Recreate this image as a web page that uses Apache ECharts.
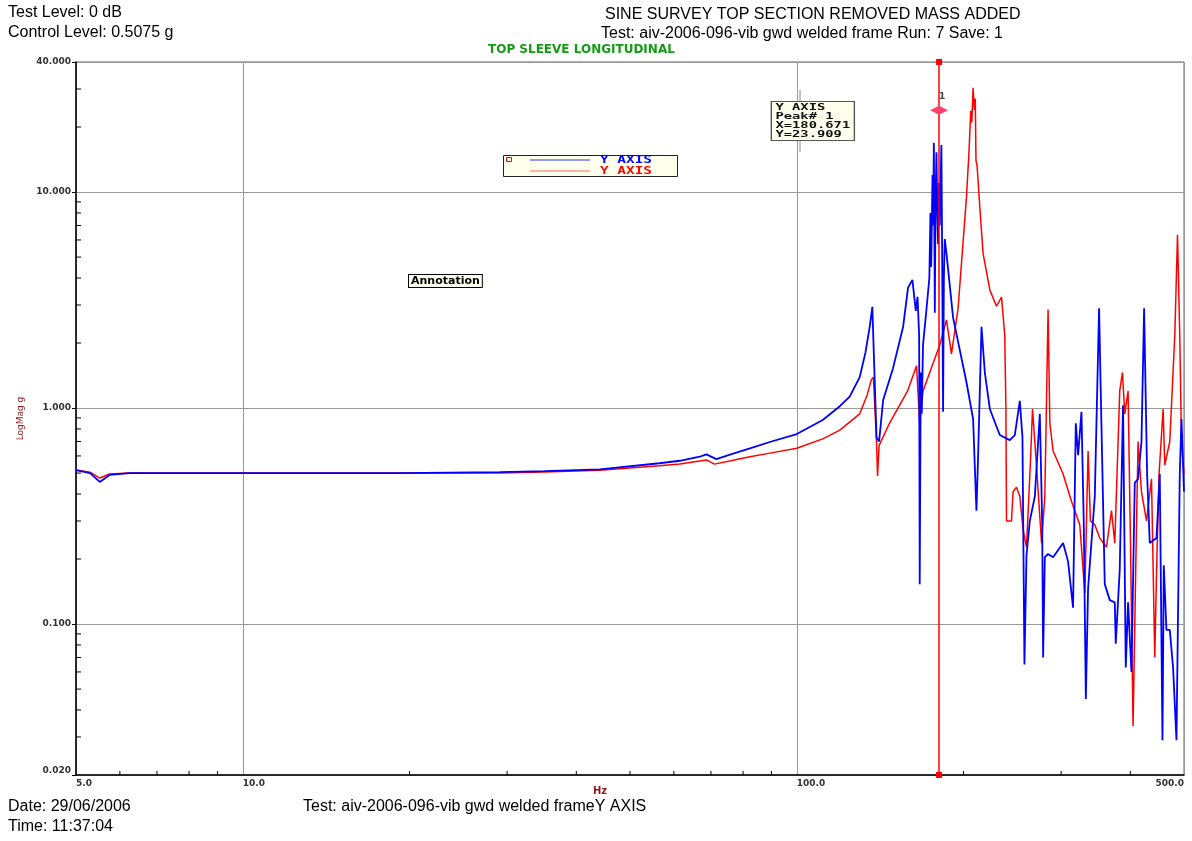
<!DOCTYPE html>
<html>
<head>
<meta charset="utf-8">
<title>Sine survey - top sleeve longitudinal</title>
<script src="https://cdn.jsdelivr.net/npm/echarts@6/dist/echarts.min.js"></script>
<style>
  html, body { margin: 0; padding: 0; background: #fff; }
  #chart { width: 1192px; height: 841px; }
</style>
</head>
<body>
<div id="chart"></div>
<script>
// Hz / g readings
const freqBlue = [5.0, 5.3, 5.52, 5.75, 6.25, 8.4, 12.7, 19.2, 29.1, 35, 44.1, 56.5, 61.5, 66.8, 68.7, 71.6, 76, 82.3, 90, 100,
  111.4, 119.6, 124.6, 129.9, 133, 135.5, 136.9, 138.3, 139.3, 140.8, 143.2, 149.2, 155.6, 158.8, 161.7, 164.0, 165.2, 166.3, 166.7, 167.4,
  168.1, 169.0, 171.5, 173.5, 174.3, 174.8, 175.1, 175.8, 176.2, 176.8, 177.5, 178.0, 178.7, 179.3, 179.9, 180.5, 181.2, 182.4, 183.0, 183.7,
  184.3, 185.0, 186.3, 191.5, 202.4, 208.1, 211.0, 212.4, 215.5, 218.5, 223.1, 232.5, 242.4, 247.5, 252.7, 255.5, 257.6, 259.8, 263.4, 269.0,
  274.6, 277.3, 278.4, 280.4, 284.2, 290.2, 302.5, 308.8, 315.3, 318.9, 322.0, 326.5, 329.6, 332.5, 335.6, 345.1, 351.3, 354.8, 359.7, 367.3,
  375.0, 376.5, 382.8, 388.1, 392.5, 396.3, 401.9, 407.5, 413.1, 419.0, 423.6, 428.9, 433.7, 446.0, 452.1, 457.2, 459.7, 464.8, 471.3, 477.8,
  484.6, 491.3, 494.8, 500];
const magBlue = [0.516, 0.50, 0.455, 0.49, 0.50, 0.50, 0.50, 0.50, 0.505, 0.51, 0.52, 0.555, 0.57, 0.595, 0.61, 0.58, 0.61, 0.65, 0.70, 0.758,
  0.88, 1.02, 1.13, 1.39, 1.8, 2.4, 2.94, 1.3, 0.73, 0.70, 1.09, 1.53, 2.38, 3.61, 3.92, 2.82, 3.27, 2.16, 0.153, 1.46,
  0.94, 1.96, 2.89, 4.0, 8.0, 4.5, 5.75, 12, 7, 16.9, 2.76, 9, 15.3, 8, 5.75, 11, 7, 16.5, 5, 0.96,
  4, 6.06, 5.2, 2.62, 1.32, 0.89, 0.335, 0.575, 2.38, 1.46, 0.99, 0.75, 0.71, 0.75, 1.08, 0.73, 0.065, 0.207, 0.30, 0.39,
  0.94, 0.30, 0.070, 0.204, 0.211, 0.204, 0.237, 0.195, 0.119, 0.85, 0.605, 0.96, 0.30, 0.045, 0.146, 0.39, 2.9, 0.825, 0.153, 0.129,
  0.126, 0.081, 0.178, 1.03, 0.063, 0.126, 0.060, 0.45, 0.47, 0.70, 2.9, 0.495, 0.237, 0.25, 0.495, 0.029, 0.187, 0.094, 0.094, 0.063,
  0.029, 0.495, 0.89, 0.41];

const freqRed = [5.0, 5.3, 5.52, 5.75, 6.25, 8.4, 12.7, 19.2, 29.1, 35, 44.1, 56.5, 61.5, 66.8, 68.7, 71.0, 76, 82.3, 90, 100,
  111.4, 119.6, 129.9, 134, 136.3, 137.5, 139.3, 139.9, 140.8, 147, 158.5, 164.5, 166.7, 169.0, 176.2, 181.2, 186.3, 190.2, 195.5, 202.4,
  204.5, 206.1, 207.0, 208.1, 209.2, 210.0, 210.6, 211.6, 214.0, 216.9, 223.1, 229.4, 234.2, 237.4, 238.5, 239.1, 240.7, 244.1, 245.7, 249.2,
  252.7, 256.1, 259.8, 264.2, 266.4, 270.8, 276.6, 280.4, 284.2, 286.3, 290.2, 302.5, 313.2, 324.2, 331.1, 335.6, 338.9, 345.1, 352.3, 362.2,
  369.9, 375.0, 382.8, 387.1, 390.9, 396.3, 400.3, 404.6, 409.2, 413.1, 419.0, 427.8, 436.8, 442.8, 446.0, 450.8, 458.4, 461.6, 471.3, 481.2,
  486.7, 491.3, 494.8, 500];
const magRed = [0.516, 0.505, 0.474, 0.495, 0.50, 0.50, 0.50, 0.50, 0.50, 0.505, 0.515, 0.54, 0.55, 0.568, 0.575, 0.55, 0.57, 0.595, 0.62, 0.651,
  0.72, 0.79, 0.94, 1.15, 1.35, 1.39, 0.70, 0.485, 0.67, 0.85, 1.20, 1.57, 0.85, 1.20, 1.61, 1.96, 2.56, 1.78, 2.89, 9.4,
  15, 23.8, 21, 30.4, 24, 27, 14, 13.2, 8.5, 5.2, 3.52, 2.96, 3.26, 2.16, 1.0, 0.30, 0.296, 0.30, 0.41, 0.43,
  0.39, 0.275, 0.227, 0.575, 0.99, 0.545, 0.237, 0.39, 2.86, 0.85, 0.633, 0.495, 0.37, 0.288, 0.139, 0.633, 0.30, 0.288, 0.25, 0.227,
  0.335, 0.237, 1.20, 1.46, 0.94, 1.20, 0.237, 0.0336, 0.187, 0.70, 0.41, 0.30, 0.47, 0.070, 0.17, 0.495, 0.99, 0.545, 0.70, 2.16,
  6.34, 2.16, 0.70, 0.495];

// cursor / peak readout
const peakX = 180.671;
const peakY = 23.909;

// axis ranges and minor tick positions
const xMin = 5, xMax = 500;
const yMin = 0.02, yMax = 40;
const xMinor = [6, 7, 8, 9, 20, 30, 40, 50, 60, 70, 80, 90, 200, 300, 400];
const yMinor = [0.03, 0.04, 0.05, 0.06, 0.07, 0.08, 0.09, 0.2, 0.3, 0.4, 0.5, 0.6, 0.7, 0.8, 0.9,
  2, 3, 4, 5, 6, 7, 8, 9, 20, 30];

const zip = (xs, ys) => xs.map((x, i) => [x, ys[i]]);

const chart = echarts.init(document.getElementById('chart'));

const sans = '"Liberation Sans", Arial, sans-serif';
const mono = '"DejaVu Sans Mono", monospace';

function minorTick(horizontal) {
  return function (params, api) {
    const p = api.coord([api.value(0), api.value(1)]);
    return {
      type: 'line',
      shape: horizontal
        ? { x1: p[0], y1: p[1], x2: p[0], y2: p[1] - 4 }
        : { x1: p[0], y1: p[1], x2: p[0] + 5, y2: p[1] },
      style: { stroke: '#000', lineWidth: 1 }
    };
  };
}

// legend box drawn by hand: both traces carry the same name "Y AXIS"
function legendRow(y, color, lineColor) {
  return [
    { type: 'line', z: 12, shape: { x1: 530, y1: y, x2: 590, y2: y }, style: { stroke: lineColor, lineWidth: 1.2 } },
    { type: 'text', z: 12, x: 600, y: y, scaleX: 1.2, scaleY: 0.8,
      style: { text: 'Y AXIS', font: 'bold 12px ' + mono, fill: color, verticalAlign: 'middle' } }
  ];
}

const option = {
  backgroundColor: '#fff',
  animation: false,
  grid: {
    left: 76, right: 8, top: 62, bottom: 66,
    show: true, borderColor: '#666', borderWidth: 1
  },
  xAxis: {
    type: 'log', logBase: 10, min: xMin, max: xMax,
    axisLine: { lineStyle: { color: '#000', width: 1.5 } },
    axisTick: { show: false },
    splitLine: { show: true, lineStyle: { color: '#999', width: 1 } },
    axisLabel: {
      formatter: v => Number(v).toFixed(1),
      align: 'left', alignMaxLabel: 'right', margin: 4,
      fontFamily: 'DejaVu Sans', fontSize: 9, fontWeight: 'bold', color: '#333'
    }
  },
  yAxis: {
    type: 'log', logBase: 10, min: yMin, max: yMax,
    name: 'LogMag g', nameLocation: 'middle', nameGap: 47,
    nameTextStyle: { color: '#8b1a1a', fontSize: 9, fontFamily: 'DejaVu Sans' },
    axisLine: { lineStyle: { color: '#000', width: 1.5 } },
    axisTick: { show: true, length: 4, lineStyle: { color: '#000' } },
    splitLine: { show: true, lineStyle: { color: '#999', width: 1 } },
    axisLabel: {
      formatter: v => Number(v).toFixed(3),
      margin: 5, verticalAlignMinLabel: 'bottom',
      fontFamily: 'DejaVu Sans', fontSize: 9, fontWeight: 'bold', color: '#333'
    }
  },
  series: [
    {
      name: 'Y AXIS (red)', type: 'line', data: zip(freqRed, magRed),
      showSymbol: false, symbol: 'none',
      lineStyle: { color: '#ff0000', width: 1.5 }, itemStyle: { color: '#ff0000' }
    },
    {
      name: 'Y AXIS (blue)', type: 'line', data: zip(freqBlue, magBlue),
      showSymbol: false, symbol: 'none',
      lineStyle: { color: '#0000ff', width: 1.8 }, itemStyle: { color: '#0000ff' },
      markLine: {
        silent: true, symbol: ['rect', 'rect'], symbolSize: 6,
        label: { show: false },
        lineStyle: { color: '#ff0000', width: 1.5, type: 'solid' },
        data: [{ xAxis: peakX }]
      },
      markPoint: {
        silent: true, symbol: 'diamond', symbolSize: [18, 9],
        itemStyle: { color: '#ff4070' },
        label: { show: true, formatter: '1', position: 'top', offset: [3, 0],
          color: '#444', fontSize: 9, fontFamily: 'DejaVu Sans', fontWeight: 'bold' },
        data: [{ coord: [peakX, peakY] }]
      }
    },
    {
      type: 'custom', silent: true, clip: false, z: 3,
      data: xMinor.map(v => [v, yMin]),
      renderItem: minorTick(true)
    },
    {
      type: 'custom', silent: true, clip: false, z: 3,
      data: yMinor.map(v => [xMin, v]),
      renderItem: minorTick(false)
    }
  ],
  graphic: [
    { type: 'text', left: 8, top: 5, style: { text: 'Test Level: 0 dB', font: '16px ' + sans, fill: '#000' } },
    { type: 'text', left: 8, top: 25, style: { text: 'Control Level: 0.5075 g', font: '16px ' + sans, fill: '#000' } },
    { type: 'text', left: 605, top: 7, style: { text: 'SINE SURVEY TOP SECTION REMOVED MASS ADDED', font: '16px ' + sans, fill: '#000' } },
    { type: 'text', left: 601, top: 26, style: { text: 'Test: aiv-2006-096-vib gwd welded frame Run: 7 Save: 1', font: '16px ' + sans, fill: '#000' } },
    { type: 'text', left: 488, top: 44, style: { text: 'TOP SLEEVE LONGITUDINAL', font: 'bold 12px "DejaVu Sans"', fill: '#139b13' } },
    {
      type: 'line', z: 10, shape: { x1: 800, y1: 90, x2: 800, y2: 152 },
      style: { stroke: '#888', lineWidth: 1 }
    },
    {
      type: 'text', x: 772, y: 102, scaleX: 1.15, scaleY: 0.76, z: 11,
      style: {
        text: 'Y AXIS\nPeak# 1\nX=' + peakX.toFixed(3) + '\nY=' + peakY.toFixed(3),
        font: 'bold 12px ' + mono, fill: '#111', lineHeight: 12,
        backgroundColor: '#ffffee', borderColor: '#555', borderWidth: 1.2, padding: [1, 3, 1, 3]
      }
    },
    {
      type: 'rect', z: 11, shape: { x: 503.5, y: 155.5, width: 174, height: 21 },
      style: { fill: '#ffffee', stroke: '#222', lineWidth: 1 }
    },
    {
      type: 'rect', z: 12, shape: { x: 506.5, y: 157.5, width: 5, height: 4 },
      style: { fill: '#ffffee', stroke: '#ff0000', lineWidth: 1 }
    },
    ...legendRow(160, '#0000ff', '#3333ff'),
    ...legendRow(171, '#ff0000', '#ff6666'),
    {
      type: 'text', left: 408, top: 274, z: 11,
      style: {
        text: 'Annotation', font: 'bold 11px "DejaVu Sans"', fill: '#000',
        backgroundColor: '#ffffee', borderColor: '#000', borderWidth: 1, padding: [1, 2, 0, 2]
      }
    },
    { type: 'text', left: 593, top: 786, style: { text: 'Hz', font: 'bold 10px "DejaVu Sans"', fill: '#8b1a1a' } },
    { type: 'text', left: 8, top: 799, style: { text: 'Date: 29/06/2006', font: '16px ' + sans, fill: '#000' } },
    { type: 'text', left: 8, top: 819, style: { text: 'Time: 11:37:04', font: '16px ' + sans, fill: '#000' } },
    { type: 'text', left: 303, top: 799, style: { text: 'Test: aiv-2006-096-vib gwd welded frameY AXIS', font: '16px ' + sans, fill: '#000' } }
  ]
};

chart.setOption(option);
</script>
</body>
</html>
